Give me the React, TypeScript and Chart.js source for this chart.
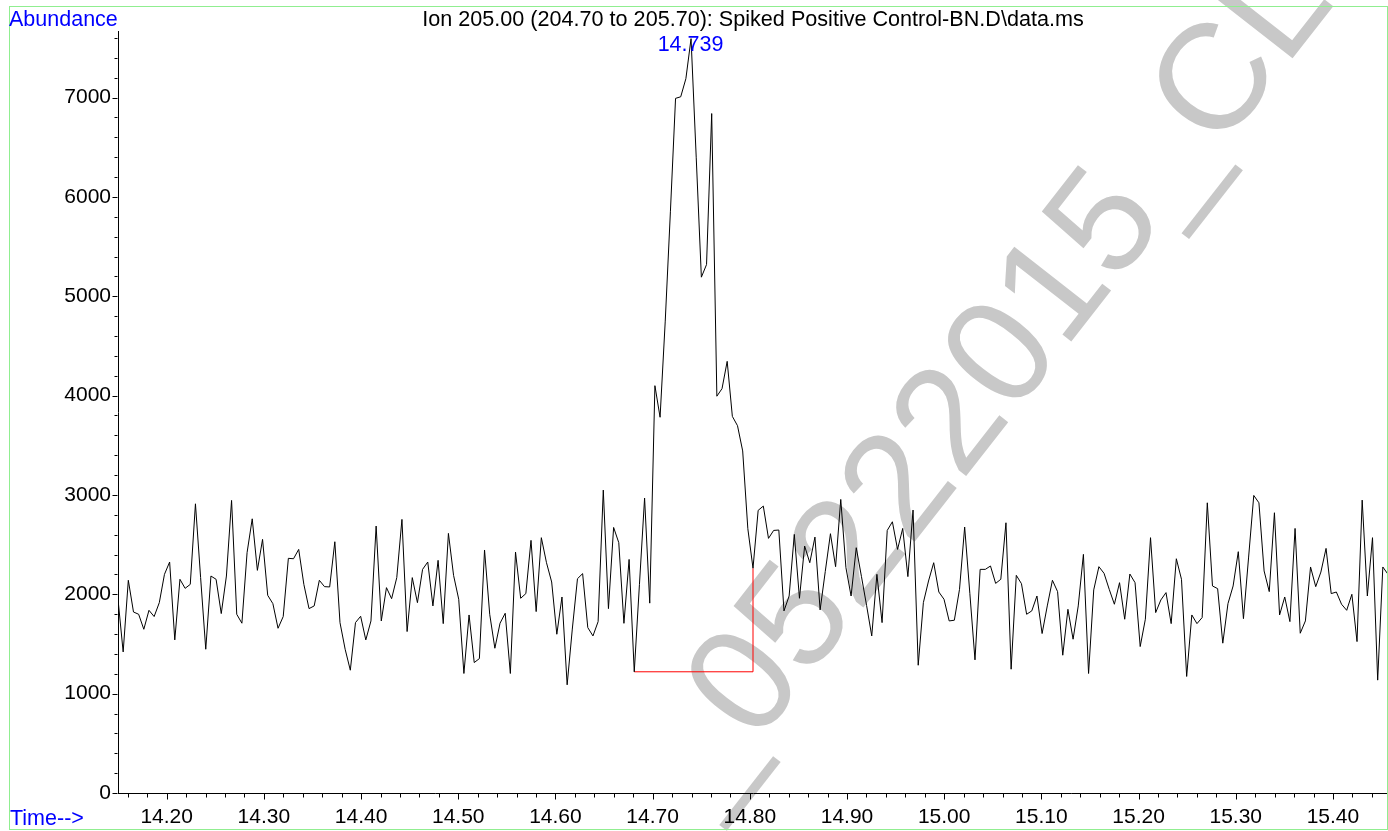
import React, { useEffect, useRef } from 'react';
import { Chart, registerables } from 'chart.js';

Chart.register(...registerables);

// ---- data ----
const START_TIME = 14.1499; // min, first scan
const SCAN_INTERVAL = 0.005312; // min between scans
const ABUNDANCE: number[] = [
  1950, 1420, 2141, 1822, 1799, 1648, 1839, 1776, 1916, 2201,
  2325, 1541, 2151, 2060, 2100, 2911, 2170, 1447, 2184, 2151,
  1806, 2184, 2945, 1799, 1709, 2419, 2760, 2241, 2553, 1990,
  1906, 1658, 1776, 2362, 2358, 2452, 2100, 1856, 1883, 2141,
  2077, 2074, 2529, 1715, 1447, 1236, 1715, 1779, 1541, 1732,
  2687, 1732, 2067, 1956, 2168, 2754, 1625, 2168, 1916, 2251,
  2325, 1883, 2342, 1705, 2613, 2191, 1950, 1203, 1792, 1313,
  1353, 2446, 1799, 1457, 1709, 1809, 1203, 2425, 1960, 2007,
  2543, 1826, 2570, 2318, 2124, 1598, 1973, 1089, 1650, 2157,
  2208, 1665, 1581, 1725, 3049, 1856, 2673, 2520, 1708, 2351,
  1220, 2097, 2969, 1911, 4100, 3782, 4750, 5850, 6992, 7008,
  7190, 7593, 6400, 5192, 5319, 6839, 3994, 4070, 4345, 3791,
  3697, 3443, 2660, 2263, 2845, 2888, 2563, 2643, 2647, 1833,
  1983, 2603, 1960, 2486, 2318, 2576, 1843, 2230, 2610, 2278,
  2955, 2268, 1983, 2469, 2181, 1889, 1581, 2201, 1715, 2643,
  2730, 2452, 2663, 2178, 2848, 1286, 1916, 2134, 2318, 2023,
  1950, 1732, 1739, 2050, 2677, 2010, 1340, 2251, 2251, 2285,
  2110, 2151, 2720, 1246, 2191, 2107, 1799, 1833, 1983, 1605,
  1883, 2141, 2027, 1387, 1849, 1548, 1883, 2402, 1203, 2044,
  2278, 2211, 2050, 1900, 2117, 1749, 2204, 2117, 1474, 1749,
  2570, 1816, 1943, 2017, 1705, 2358, 2151, 1173, 1792, 1705,
  1766, 2921, 2084, 2057, 1508, 1906, 2084, 2429, 1755, 2375,
  2995, 2921, 2235, 2027, 2821, 1792, 1973, 1725, 2663, 1608,
  1732, 2275, 2077, 2224, 2462, 2007, 2023, 1900, 1839, 2000,
  1524, 2948, 1983, 2570, 1136, 2275, 2201,
];
const X_TICK_VALUES = [14.2, 14.3, 14.4, 14.5, 14.6, 14.7, 14.8, 14.9, 15.0, 15.1, 15.2, 15.3, 15.4];
const X_TICK_LABELS = ['14.20', '14.30', '14.40', '14.50', '14.60', '14.70', '14.80', '14.90', '15.00', '15.10', '15.20', '15.30', '15.40'];
const Y_TICK_VALUES = [0, 1000, 2000, 3000, 4000, 5000, 6000, 7000];
const Y_TICK_LABELS = ['0', '1000', '2000', '3000', '4000', '5000', '6000', '7000'];
const X_MINOR_STEP = 0.02;
const Y_MINOR_STEP = 200;
const Y_MAX = 7670;
const PEAK_TIME = 14.739;
const PEAK_LABEL = '14.739';
const INTEGRATION_START_SCAN = 100;
const INTEGRATION_END_SCAN = 123;
const TITLE = 'Ion 205.00 (204.70 to 205.70): Spiked Positive Control-BN.D\\data.ms';
const Y_LABEL = 'Abundance';
const X_LABEL = 'Time-->';
const WATERMARK = '_05222015_CL';

const FONT = '"Liberation Sans", Arial, Helvetica, sans-serif';

export default function App() {
  const ref = useRef<HTMLCanvasElement>(null);

  useEffect(() => {
    const times = ABUNDANCE.map((_, i) => START_TIME + i * SCAN_INTERVAL);
    const points = ABUNDANCE.map((v, i) => ({ x: times[i], y: v }));
    const base = ABUNDANCE[INTEGRATION_START_SCAN];
    const baseline = [
      { x: times[INTEGRATION_START_SCAN], y: base },
      { x: times[INTEGRATION_END_SCAN], y: base },
      { x: times[INTEGRATION_END_SCAN], y: ABUNDANCE[INTEGRATION_END_SCAN] },
    ];

    const decor = {
      id: 'decor',
      beforeDraw(chart: any) {
        const ctx = chart.ctx;
        ctx.save();
        ctx.fillStyle = '#c8c8c8';
        ctx.font = `150px ${FONT}`;
        ctx.textAlign = 'left';
        ctx.textBaseline = 'alphabetic';
        ctx.translate(756, 745);
        ctx.rotate((-52 * Math.PI) / 180);
        const underscoreW = ctx.measureText('_').width;
        ctx.fillText(WATERMARK, -underscoreW, 0);
        ctx.restore();
      },
      afterDraw(chart: any) {
        const ctx = chart.ctx;
        const xs = chart.scales.x;
        const ys = chart.scales.y;
        const area = chart.chartArea;
        ctx.save();
        // ticks
        ctx.strokeStyle = '#000';
        ctx.lineWidth = 1;
        ctx.beginPath();
        const yAxisX = Math.round(area.left) - 0.5;
        const xAxisY = Math.round(area.bottom) + 0.5;
        const nY = Math.floor(Y_MAX / Y_MINOR_STEP);
        for (let i = 0; i <= nY; i++) {
          const v = i * Y_MINOR_STEP;
          const py = Math.round(ys.getPixelForValue(v)) + 0.5;
          const major = v % 1000 === 0;
          ctx.moveTo(yAxisX - (major ? 5 : 3), py);
          ctx.lineTo(yAxisX, py);
        }
        const xStart = Math.ceil(xs.min / X_MINOR_STEP - 1e-6);
        const xEnd = Math.floor(xs.max / X_MINOR_STEP + 1e-6);
        for (let k = xStart; k <= xEnd; k++) {
          const v = k * X_MINOR_STEP;
          const px = Math.round(xs.getPixelForValue(v)) + 0.5;
          const major = k % 5 === 0;
          ctx.moveTo(px, xAxisY);
          ctx.lineTo(px, xAxisY + (major ? 6 : 4));
        }
        ctx.stroke();

        // green frame
        ctx.strokeStyle = '#90ee90';
        ctx.strokeRect(9.5, 6.5, 1378, 823);

        // texts
        ctx.font = `21.5px ${FONT}`;
        ctx.textBaseline = 'alphabetic';
        ctx.fillStyle = '#0000ff';
        ctx.textAlign = 'left';
        ctx.fillText(Y_LABEL, 9, 26);
        ctx.fillText(X_LABEL, 10, 825);
        ctx.textAlign = 'center';
        ctx.fillText(PEAK_LABEL, xs.getPixelForValue(PEAK_TIME), 51);
        ctx.fillStyle = '#000';
        ctx.font = `21.6px ${FONT}`;
        ctx.fillText(TITLE, (area.left + area.right) / 2, 26);
        ctx.restore();
      },
    };

    const chart = new Chart(ref.current as HTMLCanvasElement, {
      type: 'line',
      data: {
        datasets: [
          {
            data: points,
            borderColor: '#000000',
            borderWidth: 1,
            pointRadius: 0,
            tension: 0,
          },
          {
            data: baseline,
            borderColor: '#ff0000',
            borderWidth: 1,
            pointRadius: 0,
            tension: 0,
          },
        ],
      },
      options: {
        animation: false,
        responsive: false,
        events: [],
        layout: { padding: { top: 31, left: 0, right: 0, bottom: 0 } },
        plugins: {
          legend: { display: false },
          tooltip: { enabled: false },
          title: { display: false },
        },
        scales: {
          x: {
            type: 'linear',
            min: times[0],
            max: times[times.length - 1],
            grid: { display: false, drawTicks: false },
            border: { display: true, color: '#000', width: 1 },
            afterFit(s: any) {
              s.height = 38;
            },
            afterBuildTicks(s: any) {
              s.ticks = X_TICK_VALUES.map((v) => ({ value: v }));
            },
            ticks: {
              padding: 12,
              autoSkip: false,
              maxRotation: 0,
              color: '#000',
              font: { family: FONT, size: 21 },
              callback: (_v: any, i: number) => X_TICK_LABELS[i],
            },
          },
          y: {
            type: 'linear',
            min: 0,
            max: Y_MAX,
            grid: { display: false, drawTicks: false },
            border: { display: true, color: '#000', width: 1 },
            afterFit(s: any) {
              s.width = 118;
            },
            afterBuildTicks(s: any) {
              s.ticks = Y_TICK_VALUES.map((v) => ({ value: v }));
            },
            ticks: {
              padding: 7,
              color: '#000',
              font: { family: FONT, size: 21 },
              callback: (_v: any, i: number) => Y_TICK_LABELS[i],
            },
          },
        },
      },
      plugins: [decor],
    });
    return () => chart.destroy();
  }, []);

  return (
    <div style={{ position: 'fixed', left: 0, top: 0, width: 1388, height: 831, background: '#fff' }}>
      <canvas ref={ref} width={1388} height={831} style={{ display: 'block', width: 1388, height: 831 }} />
    </div>
  );
}
